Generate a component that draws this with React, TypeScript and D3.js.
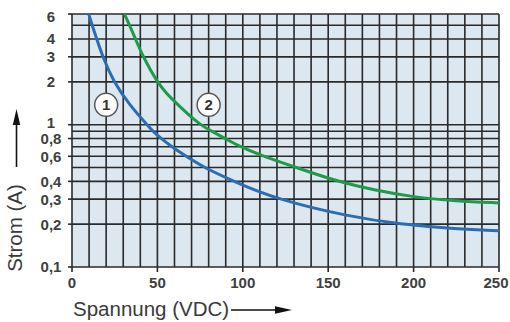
import * as d3 from "d3";
import React from "react";

// Curve 1 (blue): voltage (VDC) / current (A)
const blueVolts = [9.8, 11.8, 14.5, 18.0, 24.3, 33.7, 43.9, 47.4, 52.1, 58.5, 66.7, 77.3, 94.8, 119.4, 163, 192, 225, 250];
const blueAmps = [6, 5, 4, 3, 2.0, 1.376, 1.0, 0.9, 0.8, 0.7, 0.6, 0.5, 0.4, 0.3, 0.225, 0.2, 0.185, 0.18];

// Curve 2 (green)
const greenVolts = [30.7, 33.7, 37.2, 41.6, 49.8, 55.3, 62.1, 69.1, 75.2, 81.8, 89.6, 98.4, 112, 131.5, 155, 178, 199.6, 224.8, 250];
const greenAmps = [6, 5, 4, 3, 2.0, 1.657, 1.376, 1.151, 1.0, 0.9, 0.8, 0.7, 0.6, 0.5, 0.4, 0.345, 0.31, 0.291, 0.282];

const yGridValues = [6, 5, 4, 3, 2, 1, 0.9, 0.8, 0.7, 0.6, 0.5, 0.4, 0.3, 0.2, 0.1];
const yTickValues = [6, 4, 3, 2, 1, 0.8, 0.6, 0.4, 0.3, 0.2, 0.1];
const yTickLabels = ["6", "4", "3", "2", "1", "0,8", "0,6", "0,4", "0,3", "0,2", "0,1"];
const xTickValues = [0, 50, 100, 150, 200, 250];

const curveLabels = [
  { text: "1", v: 20, a: 1.38 },
  { text: "2", v: 80, a: 1.38 },
];

const width = 510;
const height = 322;
const margin = { top: 14, right: 11, bottom: 55, left: 72 };

export default function App() {
  const x = d3.scaleLinear().domain([0, 250]).range([margin.left, width - margin.right]);
  const y = d3.scaleLog().domain([0.1, 6]).range([height - margin.bottom, margin.top]);

  const line = d3
    .line<[number, number]>()
    .x((d) => x(d[0]))
    .y((d) => y(d[1]))
    .curve(d3.curveBasis);

  const blue = blueVolts.map((v, i) => [v, blueAmps[i]] as [number, number]);
  const green = greenVolts.map((v, i) => [v, greenAmps[i]] as [number, number]);

  const gridColor = "#2a2a2a";
  const textColor = "#404040";
  const x0 = x(0);
  const x1 = x(250);
  const y0 = y(0.1);
  const y1 = y(6);

  // nudge the top label down and "1" up a little, as in the original
  const yLabelShift = (a: number) => (a === 6 ? 3 : a === 1 ? -2 : 0);

  return (
    <svg
      width={width}
      height={height}
      style={{ position: "absolute", left: 0, top: 0, background: "#fff" }}
      fontFamily="'Liberation Sans', Arial, sans-serif"
    >
      <defs>
        <clipPath id="plot">
          <rect x={x0} y={y1} width={x1 - x0} height={y0 - y1} />
        </clipPath>
      </defs>
      <rect x={x0} y={y1} width={x1 - x0} height={y0 - y1} fill="#dde7ef" />

      {/* grid */}
      {d3.range(0, 251, 10).map((v) => (
        <line key={"v" + v} x1={x(v)} x2={x(v)} y1={y1} y2={y0} stroke={gridColor} strokeWidth={1.6} />
      ))}
      {yGridValues.map((a) => (
        <line key={"h" + a} x1={x0} x2={x1} y1={y(a)} y2={y(a)} stroke={gridColor} strokeWidth={1.6} />
      ))}

      {/* ticks */}
      {yTickValues.map((a, i) => (
        <g key={"yt" + a}>
          <line x1={x0 - 4} x2={x0} y1={y(a)} y2={y(a)} stroke={gridColor} strokeWidth={1.6} />
          <text
            x={51}
            y={y(a) + yLabelShift(a)}
            dy="0.36em"
            textAnchor="middle"
            fontSize={15}
            fontWeight="bold"
            fill={textColor}
          >
            {yTickLabels[i]}
          </text>
        </g>
      ))}
      {xTickValues.map((v) => (
        <g key={"xt" + v}>
          <line x1={x(v)} x2={x(v)} y1={y0} y2={y0 + 5} stroke={gridColor} strokeWidth={1.6} />
          <text
            x={Math.min(x(v), width - 14)}
            y={288}
            textAnchor="middle"
            fontSize={15}
            fontWeight="bold"
            fill={textColor}
          >
            {v}
          </text>
        </g>
      ))}

      {/* curves */}
      <g clipPath="url(#plot)">
        <path d={line(blue) || ""} fill="none" stroke="#2b6db3" strokeWidth={3} />
        <path d={line(green) || ""} fill="none" stroke="#1f9a4a" strokeWidth={3} />
      </g>

      {/* curve numbers */}
      {curveLabels.map((l) => (
        <g key={l.text} transform={`translate(${x(l.v)},${y(l.a)})`}>
          <circle r={11.5} fill="#fff" stroke="#555" strokeWidth={1.5} />
          <text dy="0.36em" textAnchor="middle" fontSize={15} fontWeight="bold" fill="#333">
            {l.text}
          </text>
        </g>
      ))}

      {/* axis titles */}
      <text transform="translate(22,228) rotate(-90)" textAnchor="middle" fontSize={20.5} fill="#3a3a3a">
        Strom (A)
      </text>
      <line x1={16.5} x2={16.5} y1={167} y2={122} stroke="#111" strokeWidth={1.6} />
      <path d="M16.5,109 L12.8,125 L20.2,125 Z" fill="#111" />

      <text x={73} y={316} fontSize={20.5} fill="#3a3a3a">
        Spannung (VDC)
      </text>
      <line x1={231} x2={277} y1={310} y2={310} stroke="#111" strokeWidth={1.6} />
      <path d="M292,310 L275,306.3 L275,313.7 Z" fill="#111" />
    </svg>
  );
}
